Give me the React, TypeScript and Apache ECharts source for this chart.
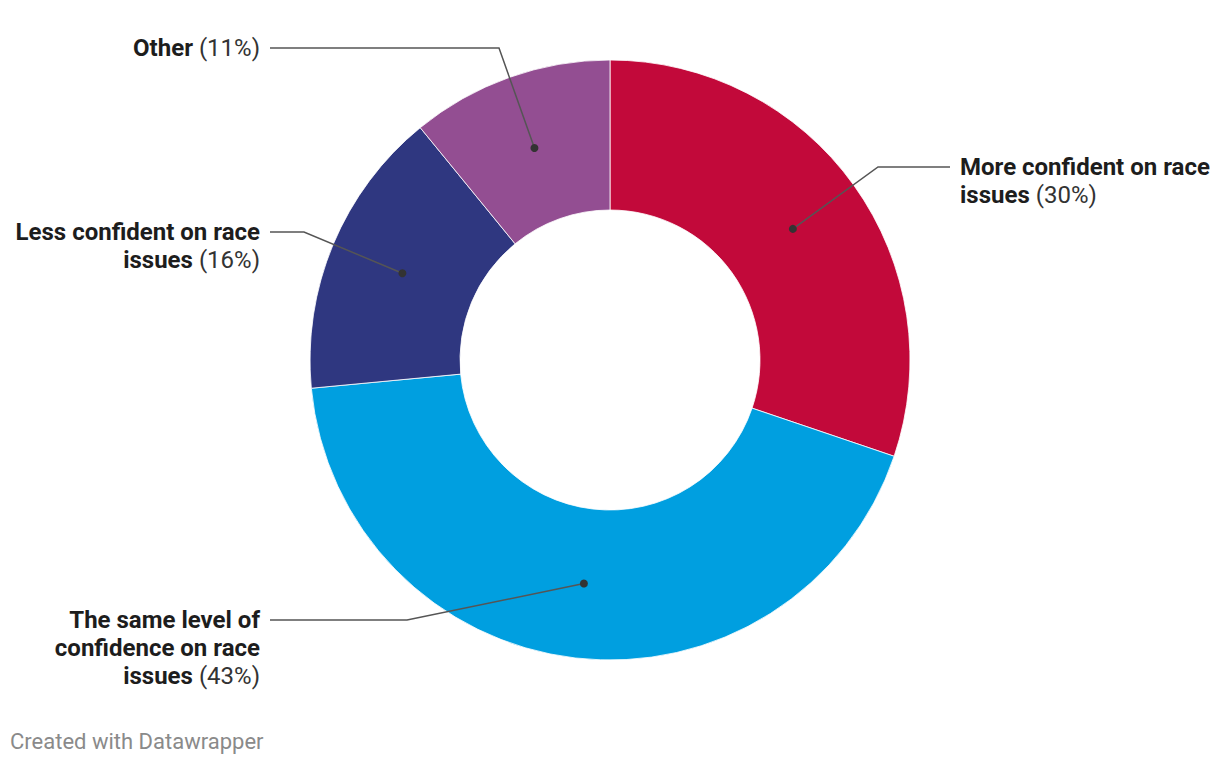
import { useEffect, useRef } from "react";
import * as echarts from "echarts";

// ---- data ----
const categories = [
  "More confident on race issues",
  "The same level of confidence on race issues",
  "Less confident on race issues",
  "Other",
];
// labels show rounded percentages
const shares = [30.2, 43.3, 15.6, 10.9];
const sliceColors = ["#c2093a", "#009fe0", "#2f3780", "#934e92"];

// ---- layout (text wrapping & label placement) ----
const labelWraps = [
  ["More confident on race", "issues"],
  ["The same level of", "confidence on race", "issues"],
  ["Less confident on race", "issues"],
  ["Other"],
];
const labelPlacement = [
  { side: "right", textX: 960, lineY: 167, elbowX: 878 },
  { side: "left", textX: 260, lineY: 620, elbowX: 407 },
  { side: "left", textX: 260, lineY: 232, elbowX: 304 },
  { side: "left", textX: 260, lineY: 48, elbowX: 499 },
];
const CX = 610;
const CY = 360;
const R_IN = 150;
const R_OUT = 300;
const FONT = "Roboto, 'Noto Sans', sans-serif";

function dotPositions() {
  const total = shares.reduce((a, b) => a + b, 0);
  const r = (R_IN + R_OUT) / 2;
  let cum = 0;
  return shares.map((v) => {
    const a = ((cum + v / 2) / total) * Math.PI * 2;
    cum += v;
    return [CX + r * Math.sin(a), CY - r * Math.cos(a)];
  });
}

export default function App() {
  const ref = useRef<HTMLDivElement>(null);
  useEffect(() => {
    if (!ref.current) return;
    const chart = echarts.init(ref.current, null, { renderer: "svg" });
    const dots = dotPositions();
    chart.setOption({
      animation: false,
      backgroundColor: "#ffffff",
      series: [
        {
          type: "pie",
          center: [CX, CY],
          radius: [R_IN, R_OUT],
          startAngle: 90,
          clockwise: true,
          avoidLabelOverlap: false,
          silent: true,
          itemStyle: { borderColor: "#ffffff", borderWidth: 0.8 },
          data: categories.map((name, i) => ({
            name,
            value: shares[i],
            itemStyle: { color: sliceColors[i] },
          })),
          label: {
            show: true,
            position: "outside",
            overflow: "none",
            fontFamily: FONT,
            formatter: (p: any) => {
              const lines = labelWraps[p.dataIndex];
              const out = lines.map((l, j) =>
                j === lines.length - 1
                  ? `{b|${l}}{p| (${Math.round(p.value)}%)}`
                  : `{b|${l}}`
              );
              return out.join("\n");
            },
            rich: {
              b: {
                fontFamily: FONT,
                fontSize: 24,
                fontWeight: "bold",
                color: "#1d1d1d",
                lineHeight: 28,
              },
              p: {
                fontFamily: FONT,
                fontSize: 24,
                fontWeight: "normal",
                color: "#333333",
                lineHeight: 28,
              },
            },
          },
          labelLine: { show: false },
          labelLayout: (params: any) => {
            const i = params.dataIndex;
            const L = labelPlacement[i];
            const right = L.side === "right";
            return {
              x: L.textX,
              y: L.lineY - 14,
              align: right ? "left" : "right",
              verticalAlign: "top",
            };
          },
        },
      ],
      graphic: [
        ...dots.map((d, i) => {
          const L = labelPlacement[i];
          const right = L.side === "right";
          return {
            type: "polyline",
            z: 100,
            silent: true,
            shape: {
              points: [
                [d[0], d[1]],
                [L.elbowX, L.lineY],
                [right ? L.textX - 10 : L.textX + 10, L.lineY],
              ],
            },
            style: { stroke: "#555555", lineWidth: 1.5, fill: null },
          };
        }),
        ...dots.map((d) => ({
          type: "circle",
          z: 101,
          silent: true,
          shape: { cx: d[0], cy: d[1], r: 4 },
          style: { fill: "#333333" },
        })),
        {
          type: "text",
          left: 10,
          top: 730,
          silent: true,
          style: {
            text: "Created with Datawrapper",
            fill: "#8a8a8a",
            font: `22px ${FONT}`,
          },
        },
      ],
    });
    return () => chart.dispose();
  }, []);
  return (
    <div
      ref={ref}
      style={{ position: "fixed", left: 0, top: 0, width: 1220, height: 766 }}
    />
  );
}
